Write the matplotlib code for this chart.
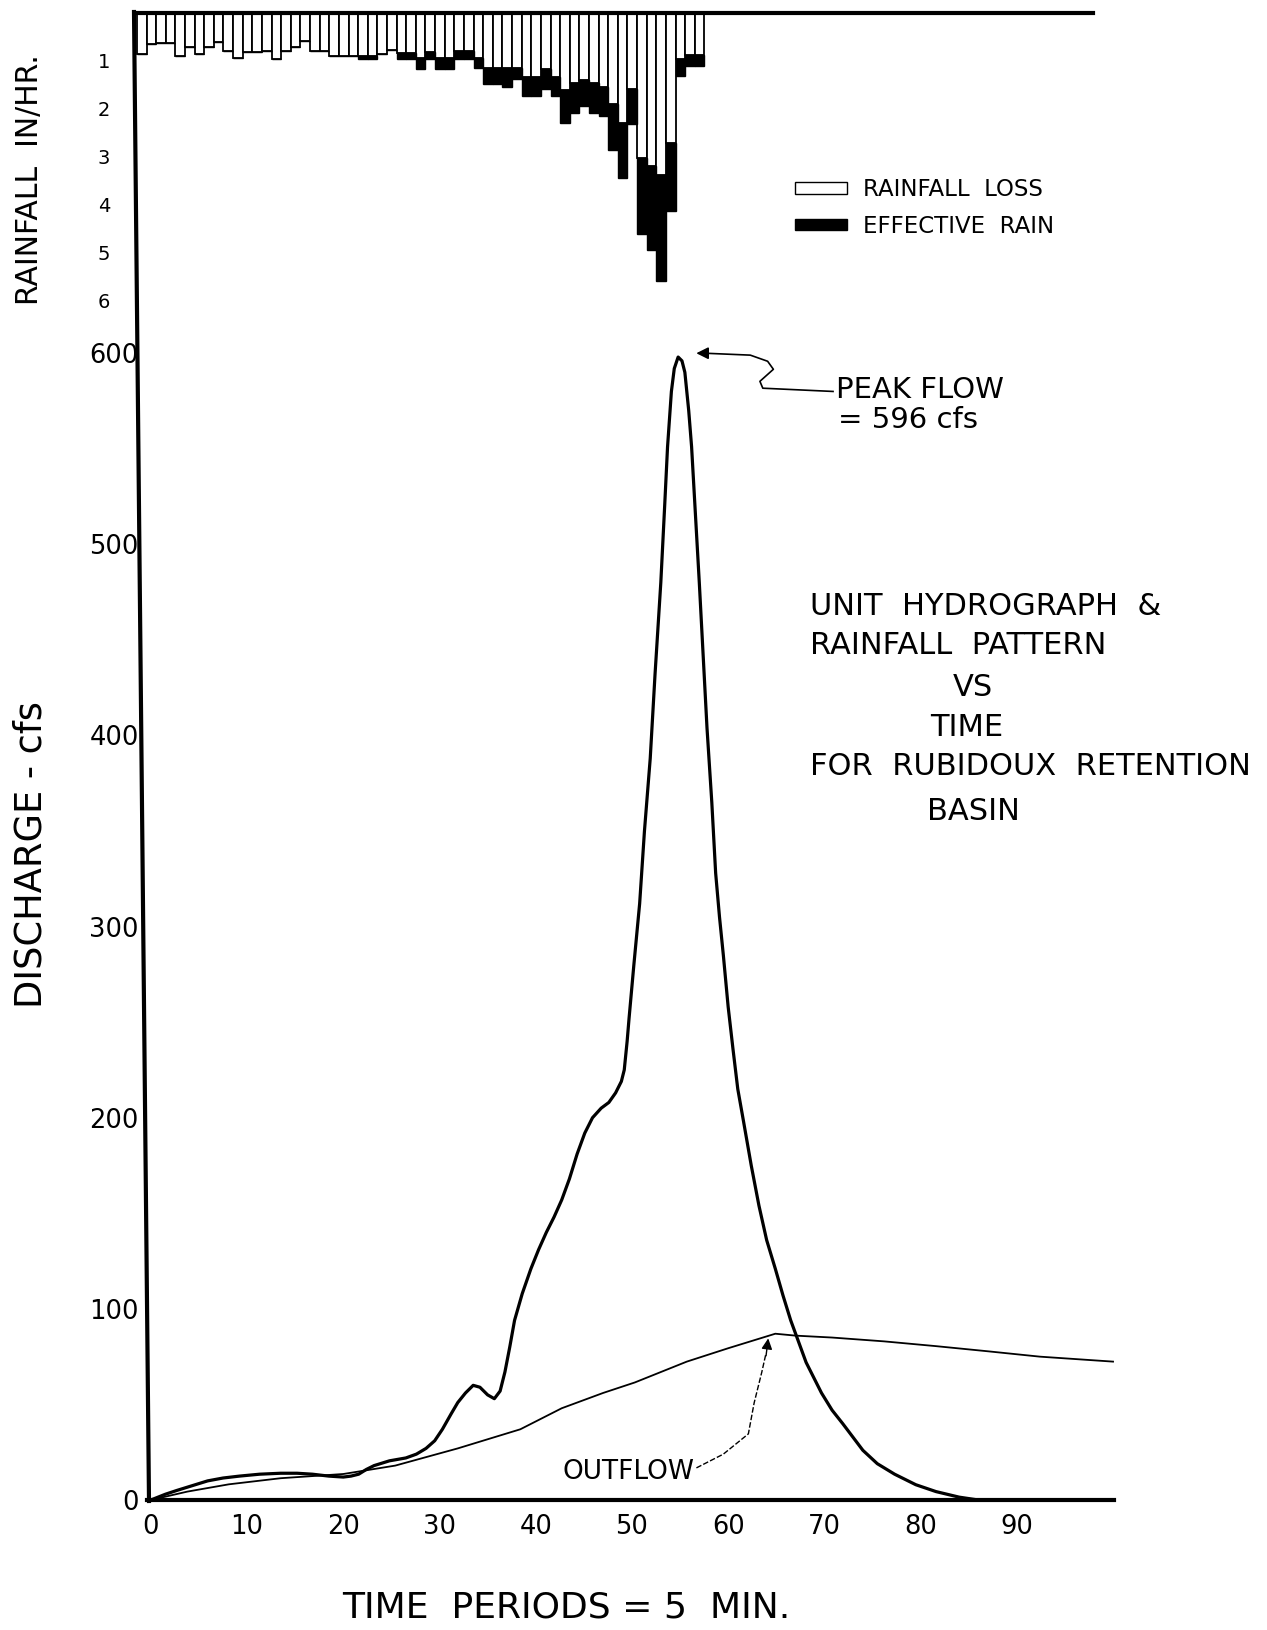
import matplotlib
matplotlib.use("Agg")
import matplotlib.pyplot as plt
from matplotlib.patches import Patch
from matplotlib.lines import Line2D

# ---------------------------------------------------------------------
# Data
# ---------------------------------------------------------------------
# rainfall per 5-min period (in/hr): loss part and effective part
rain_loss = [0.86, 0.65, 0.63, 0.63, 0.89, 0.70, 0.86, 0.70, 0.61, 0.79,
             0.93, 0.82, 0.82, 0.80, 0.96, 0.79, 0.70, 0.59, 0.79, 0.79,
             0.89, 0.89, 0.89, 0.89, 0.89, 0.86, 0.77, 0.84, 0.84, 0.93,
             0.82, 0.93, 0.93, 0.79, 0.79, 0.93, 1.14, 1.14, 1.14, 1.14,
             1.33, 1.33, 1.17, 1.33, 1.61, 1.45, 1.40, 1.47, 1.54, 1.90,
             2.29, 1.59, 3.02, 3.19, 3.38, 2.71, 0.96, 0.87, 0.87]
rain_effective = [0.00, 0.00, 0.00, 0.00, 0.00, 0.00, 0.00, 0.00, 0.00, 0.00,
                  0.00, 0.00, 0.00, 0.00, 0.00, 0.00, 0.00, 0.00, 0.00, 0.00,
                  0.00, 0.00, 0.00, 0.07, 0.07, 0.00, 0.00, 0.12, 0.12, 0.24,
                  0.13, 0.24, 0.24, 0.17, 0.17, 0.21, 0.35, 0.35, 0.41, 0.24,
                  0.40, 0.40, 0.42, 0.40, 0.68, 0.63, 0.54, 0.61, 0.61, 0.95,
                  1.15, 0.73, 1.60, 1.75, 2.22, 1.43, 0.35, 0.23, 0.23]
rain_periods = list(range(len(rain_loss)))

# inflow (unit hydrograph) in cfs vs time period
inflow_t = [0, 1.5, 2.7, 4.3, 5.9, 7.5, 9.2, 11.3, 13.5, 15.2, 16.8, 18.5,
            20.0, 20.8, 21.6, 22.4, 23.2, 24.8, 26.5, 27.6, 28.6, 29.5, 30.3,
            31.2, 31.9, 32.7, 33.5, 34.2, 35.0, 35.7, 36.3, 36.8, 37.3, 37.8,
            38.6, 39.5, 40.3, 41.1, 41.9, 42.7, 43.5, 44.3, 45.1, 45.9, 46.8,
            47.6, 48.3, 48.9, 49.2, 49.5, 49.7, 50.2, 50.8, 51.3, 51.9, 52.4,
            53.0, 53.4, 53.7, 54.1, 54.4, 54.8, 55.2, 55.5, 55.9, 56.2, 57.0,
            57.8, 58.3, 58.7, 59.1, 59.5, 60.0, 60.5, 61.0, 61.6, 62.4, 63.2,
            64.0, 64.9, 65.7, 66.5, 67.3, 68.1, 69.7, 70.8, 71.9, 74.0, 75.5,
            77.3, 79.5, 81.6, 84.0, 86.0]
inflow_q = [0, 3, 5, 7.5, 10, 11.5, 12.5, 13.5, 14, 14, 13.5, 12.5,
            12, 12.5, 13.5, 16, 18, 20.5, 22, 24, 27, 31, 37,
            45, 51, 56, 60, 59, 55, 53, 57, 67, 80, 94,
            108, 121, 131, 140, 148, 157, 168, 181, 192, 200, 205,
            208, 213, 219, 225, 240, 252, 280, 312, 350, 388, 432,
            480, 520, 551, 580, 592, 598, 596, 590, 570, 551, 480,
            404, 365, 328, 305, 285, 258, 236, 215, 198, 175, 154,
            136, 121, 107, 94, 83, 72, 56, 47, 40, 26, 19,
            13.5, 8, 4.4, 1.5, 0]

# outflow from the basin
outflow_t = [0, 3.8, 8.1, 13.5, 20.0, 25.4, 31.9, 38.4, 42.7, 47.0, 50.3,
             55.7, 60.0, 64.9, 67.0, 70.8, 76.2, 81.6, 87.0, 92.4, 100.0]
outflow_q = [0, 4.4, 8.2, 11.4, 13.6, 18, 27, 37, 48, 56, 61.5,
             72.4, 79.4, 87, 86, 85, 83, 80.5, 77.8, 75, 72.4]

x_ticks = [0, 10, 20, 30, 40, 50, 60, 70, 80, 90]
y_ticks = [0, 100, 200, 300, 400, 500, 600]
rain_ticks = [1, 2, 3, 4, 5, 6]

W, H = 1267, 1630


def fx(px):
    return px / W


def fy(py):
    return 1 - py / H


plt.rcParams['font.family'] = ['DejaVu Sans']

fig = plt.figure(figsize=(W / 100, H / 100), dpi=100)
fig.patch.set_facecolor('white')

# ---------------------------------------------------------------------
# Hydrograph axes
# ---------------------------------------------------------------------
ax_left, ax_right, ax_top, ax_bot = 147, 1114, 315, 1500
ax = fig.add_axes([fx(ax_left), fy(ax_bot), fx(ax_right) - fx(ax_left),
                   fy(ax_top) - fy(ax_bot)])
ax.plot(inflow_t, inflow_q, color='black', lw=2.3, solid_joinstyle='round')
ax.plot(outflow_t, outflow_q, color='black', lw=1.3)
ax.set_xlim(-0.4, 100.1)
ax.set_ylim(0, 620)
for s in ['top', 'right', 'left']:
    ax.spines[s].set_visible(False)
ax.spines['bottom'].set_linewidth(3)
ax.set_xticks(x_ticks)
ax.set_xticklabels([str(v) for v in x_ticks], fontsize=18.5)
ax.set_yticks(y_ticks)
ax.set_yticklabels([str(v) for v in y_ticks], fontsize=18.5)
ax.tick_params(axis='x', length=0, pad=10)
ax.tick_params(axis='y', length=0, pad=6)

ax.set_xlabel('TIME  PERIODS = 5  MIN.', fontsize=26)
ax.xaxis.label.set_va('center')
ax.xaxis.set_label_coords((566 - ax_left) / (ax_right - ax_left),
                          (ax_bot - 1607) / (ax_bot - ax_top))
ax.set_ylabel('DISCHARGE - cfs', fontsize=26.5)
ax.yaxis.label.set_va('center')
ax.yaxis.set_label_coords((31 - ax_left) / (ax_right - ax_left),
                          (ax_bot - 855) / (ax_bot - ax_top))

# peak flow leader
peak_path_x = [70.9, 63.6, 63.3, 64.7, 64.1, 62.3, 57.6]
peak_path_y = [580, 581.7, 585.3, 591.6, 595.8, 599, 600]
ax.plot(peak_path_x, peak_path_y, color='black', lw=1.2)
ax.annotate('', xy=(56.4, 600), xytext=(57.8, 600),
            arrowprops=dict(arrowstyle='-|>', color='black', lw=1.2,
                            mutation_scale=18))
ax.text(71.2, 581, 'PEAK FLOW', fontsize=21, va='center', ha='left')
ax.text(71.4, 565, '= 596 cfs', fontsize=21, va='center', ha='left')

# outflow leader
out_path_x = [56.7, 59.5, 62.1, 62.7, 63.5, 63.9]
out_path_y = [16.8, 24, 34.6, 50.8, 67, 76]
ax.plot(out_path_x, out_path_y, color='black', lw=1.0, ls=(0, (4, 1.5)))
ax.annotate('', xy=(64.2, 86), xytext=(63.9, 74),
            arrowprops=dict(arrowstyle='-|>', color='black', lw=1.0,
                            mutation_scale=16))
ax.text(49.6, 14.5, 'OUTFLOW', fontsize=19, ha='center', va='center')

# title block
fig.text(fx(810), fy(606), 'UNIT  HYDROGRAPH  &', fontsize=22, va='center')
fig.text(fx(810), fy(646), 'RAINFALL  PATTERN', fontsize=22, va='center')
fig.text(fx(973), fy(688), 'VS', fontsize=22, va='center', ha='center')
fig.text(fx(967), fy(728), 'TIME', fontsize=22, va='center', ha='center')
fig.text(fx(810), fy(767), 'FOR  RUBIDOUX  RETENTION', fontsize=22, va='center')
fig.text(fx(973), fy(812), 'BASIN', fontsize=22, va='center', ha='center')

# ---------------------------------------------------------------------
# Rainfall axes (hanging bars from the top)
# ---------------------------------------------------------------------
r_left, r_right, r_top, r_bot = 135, 1093, 13, 315
axr = fig.add_axes([fx(r_left), fy(r_bot), fx(r_right) - fx(r_left),
                    fy(r_top) - fy(r_bot)])
axr.bar(rain_periods, rain_loss, width=1.0, align='edge', color='white',
        edgecolor='black', linewidth=1.3)
axr.bar(rain_periods, rain_effective, width=1.0, align='edge',
        bottom=rain_loss, color='black', edgecolor='black', linewidth=1.0)
axr.set_xlim(-0.2, 99.4)
axr.set_ylim(6.3, 0)
axr.patch.set_alpha(0)
for s in ['bottom', 'right', 'left']:
    axr.spines[s].set_visible(False)
axr.spines['top'].set_linewidth(3)
axr.set_xticks([])
axr.set_yticks(rain_ticks)
axr.set_yticklabels([str(v) for v in rain_ticks], fontsize=14)
axr.tick_params(length=0, pad=18)
axr.set_ylabel('RAINFALL  IN/HR.', fontsize=21.5)
axr.yaxis.label.set_va('center')
axr.yaxis.set_label_coords((30 - r_left) / (r_right - r_left),
                           (r_bot - 180) / (r_bot - r_top))

handles = [Patch(facecolor='white', edgecolor='black', label='RAINFALL  LOSS'),
           Patch(facecolor='black', edgecolor='black', label='EFFECTIVE  RAIN')]
axr.legend(handles=handles, loc='center left', frameon=False, fontsize=16.5,
           handlelength=2.3, handleheight=0.4, labelspacing=0.6,
           handletextpad=0.7,
           bbox_to_anchor=(fx(774), fy(208)), bbox_transform=fig.transFigure)

# one continuous (slightly skewed) left axis line, as on the scan
fig.add_artist(Line2D([fx(134), fx(149)], [fy(12), fy(1501)],
                      color='black', lw=3))

fig.savefig('out.png', dpi=100, facecolor='white')
